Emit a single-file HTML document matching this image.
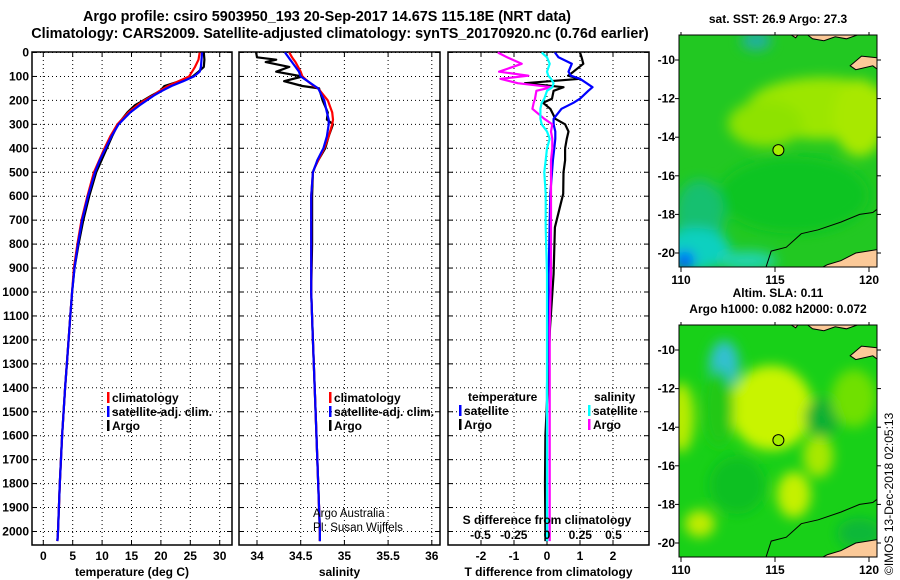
<!DOCTYPE html>
<html><head><meta charset="utf-8"><style>
html,body{margin:0;padding:0;background:#fff;}
svg{display:block;font-family:"Liberation Sans",Arial,sans-serif;}
.t{font-weight:bold;font-size:14.4px;fill:#000;}
.tk{font-weight:bold;font-size:12px;fill:#000;}
.grid{stroke:#000;stroke-width:1;stroke-dasharray:1 3;}
</style></head><body>
<svg id="fig" width="900" height="580" viewBox="0 0 900 580">
<text class="t" x="327" y="21" text-anchor="middle">Argo profile: csiro 5903950_193 20-Sep-2017 14.67S 115.18E (NRT data)</text>
<text class="t" x="340" y="38" text-anchor="middle">Climatology: CARS2009. Satellite-adjusted climatology: synTS_20170920.nc (0.76d earlier)</text>
<g id="maps"></g>
<g id="panels"></g>
<text class="tk" x="0" y="0" style="font-weight:normal" transform="translate(893,575) rotate(-90)">©IMOS 13-Dec-2018 02:05:13</text>
</svg>
<script>
// ---------- data ----------
const depthTicks=[0,100,200,300,400,500,600,700,800,900,1000,1100,1200,1300,1400,1500,1600,1700,1800,1900,2000];
const tempTicks=[0,5,10,15,20,25,30];
const salTicks=[34,34.5,35,35.5,36];
const salTickLabels=['34','34.5','35','35.5','36'];
const dTTicks=[-2,-1,0,1,2];
const dSTicks=[-0.5,-0.25,0,0.25,0.5];
const dSTickLabels=['-0.5','-0.25','0','0.25','0.5'];
// temperature profiles
const tDepth=[0,30,60,80,100,120,140,160,180,200,220,250,300,350,400,450,500,600,700,800,900,1000,1100,1200,1400,1600,1800,2000,2040];
const tClim=[26.6,26.4,25.8,25.3,24.8,23.0,21.2,19.8,18.6,17.2,16.0,14.5,12.6,11.4,10.4,9.5,8.6,7.5,6.5,5.8,5.2,4.9,4.6,4.3,3.7,3.2,2.8,2.5,2.4];
const tSat=[27.0,26.9,26.8,26.6,25.6,23.8,21.8,20.2,18.8,17.6,16.4,14.8,12.8,11.6,10.6,9.6,8.8,7.6,6.6,5.9,5.3,4.9,4.6,4.3,3.7,3.2,2.8,2.5,2.4];
const tArgo=[27.3,27.4,27.3,26.4,25.4,23.2,20.6,19.9,18.4,17.0,15.6,14.3,12.7,11.7,10.8,9.9,9.0,7.8,6.8,6.0,5.3,4.9,4.6,4.3,3.7,3.2,2.8,2.5,2.4];
// salinity profiles
const sDepth=[0,20,30,40,60,80,100,120,140,150,200,250,280,300,350,400,450,480,500,600,800,1000,1200,1500,1800,2000,2040];
const sClim=[34.37,34.40,34.42,34.44,34.47,34.50,34.52,34.58,34.65,34.70,34.81,34.86,34.87,34.86,34.82,34.77,34.70,34.66,34.64,34.62,34.62,34.62,34.64,34.67,34.70,34.72,34.72];
const sSat=[34.32,34.36,34.38,34.40,34.44,34.48,34.50,34.58,34.66,34.70,34.77,34.80,34.82,34.82,34.80,34.76,34.69,34.66,34.64,34.62,34.62,34.62,34.64,34.67,34.70,34.72,34.72];
const sArgo=[33.99,34.00,34.22,34.10,34.37,34.22,34.52,34.31,34.52,34.71,34.75,34.81,34.80,34.87,34.82,34.78,34.70,34.66,34.64,34.63,34.63,34.62,34.64,34.67,34.70,34.72,34.72];
// difference profiles
const dDepth=[0,20,47,80,97,110,128,145,160,193,210,235,277,300,330,360,400,450,500,590,730,925,1150,1400,1600,1800,2000,2040];
const dTSat=[0.24,0.35,0.75,0.65,0.72,1.0,1.2,1.38,1.25,1.0,0.8,0.44,0.2,0.2,0.25,0.25,0.22,0.18,0.15,0.1,0.08,0.05,0.03,0.0,0.0,0.0,0.0,0.0];
const dTArgo=[1.0,1.05,1.1,0.8,0.64,1.0,-0.67,0.5,0.2,0.15,-0.12,0.1,0.25,0.55,0.65,0.6,0.55,0.55,0.5,0.49,0.24,0.2,0.09,0.02,-0.05,-0.06,-0.05,-0.05];
const dSSat=[-0.04,0.0,0.02,0.0,0.01,0.03,0.05,0.04,0.0,-0.02,-0.04,-0.05,-0.05,-0.04,0.0,0.02,0.0,-0.01,-0.02,-0.01,-0.01,0.0,0.0,0.0,0.0,0.0,0.0,0.0];
const dSArgo=[-0.37,-0.30,-0.19,-0.36,-0.14,-0.35,-0.22,0.035,-0.08,-0.09,-0.1,-0.11,-0.02,0.04,0.03,0.04,0.04,0.03,0.03,0.03,0.03,0.03,0.02,0.02,0.02,0.02,0.02,0.02];
// map axes
const lonTicks=[110,115,120];
const latTicks=[-10,-12,-14,-16,-18,-20];
const floatLon=115.18, floatLat=-14.67;

// ---------- helpers ----------
const NS='http://www.w3.org/2000/svg';
function mk(tag,attrs,parent){const e=document.createElementNS(NS,tag);for(const k in attrs)e.setAttribute(k,attrs[k]);parent.appendChild(e);return e;}
const yD=d=>52.5+d*0.2395;
const panels=document.getElementById('panels');
const PT=52,PB=545;

function panel(name,x0,x1,fx,xt,xl,xtitle){
  const g=mk('g',{},panels);
  
  
  depthTicks.forEach(d=>{
    const l=mk('line',{x1:x0,x2:x1,y1:yD(d),y2:yD(d),class:'grid'},g);
    
    
    mk('line',{x1:x0,x2:x0+5,y1:yD(d),y2:yD(d),stroke:'#000'},g);
    mk('line',{x1:x1-5,x2:x1,y1:yD(d),y2:yD(d),stroke:'#000'},g);
  });
  xt.forEach((v,i)=>{
    const x=fx(v);
    const l=mk('line',{x1:x,x2:x,y1:PT,y2:PB,class:'grid'},g);
    
    
    mk('line',{x1:x,x2:x,y1:PB,y2:PB-5,stroke:'#000'},g);
    mk('line',{x1:x,x2:x,y1:PT,y2:PT+5,stroke:'#000'},g);
    const t=mk('text',{x:x,y:560,class:'tk','text-anchor':'middle'},g);
    t.textContent=xl?xl[i]:String(v);
    
    
  });
  const r=mk('rect',{x:x0,y:PT,width:x1-x0,height:PB-PT,fill:'none',stroke:'#000','stroke-width':1.5},g);
  
  
  const tt=mk('text',{x:(x0+x1)/2,y:576,class:'tk','text-anchor':'middle'},g);
  tt.textContent=xtitle;
  
  
  return g;
}
function line(g,fx,vals,depths,color,name){
  const pts=vals.map((v,i)=>fx(v).toFixed(1)+','+yD(depths[i]).toFixed(1)).join(' ');
  const p=mk('polyline',{points:pts,fill:'none',stroke:color,'stroke-width':2.2,'stroke-linejoin':'round'},g);
  
  
}
function legend(g,x,y,color,label,name){
  mk('rect',{x:x,y:y-10,width:2.5,height:11,fill:color},g);
  const t=mk('text',{x:x+5,y:y,class:'tk'},g);
  t.textContent=label;
  
  
}

// Panel 1 temperature
const fT=v=>43.3+v*5.88;
const g1=panel('temperature-panel',32,232,fT,tempTicks,null,'temperature (deg C)');
depthTicks.forEach(d=>{
  const t=mk('text',{x:29,y:yD(d)+4,class:'tk','text-anchor':'end'},g1);
  t.textContent=String(d);
  
  
});
line(g1,fT,tArgo,tDepth,'#000','temp-argo-line');
line(g1,fT,tClim,tDepth,'#f00','temp-climatology-line');
line(g1,fT,tSat,tDepth,'#00f','temp-satellite-line');
legend(g1,107,402,'#f00','climatology','legend-climatology');
legend(g1,107,416,'#00f','satellite-adj. clim.','legend-satellite');
legend(g1,107,430,'#000','Argo','legend-argo');

// Panel 2 salinity
const fS=v=>257+(v-34)*87.4;
const g2=panel('salinity-panel',239,440,fS,salTicks,salTickLabels,'salinity');
line(g2,fS,sArgo,sDepth,'#000','sal-argo-line');
line(g2,fS,sClim,sDepth,'#f00','sal-climatology-line');
line(g2,fS,sSat,sDepth,'#00f','sal-satellite-line');
legend(g2,329,402,'#f00','climatology','legend-climatology');
legend(g2,329,416,'#00f','satellite-adj. clim.','legend-satellite');
legend(g2,329,430,'#000','Argo','legend-argo');
[['Argo Australia',517],['PI: Susan Wijffels',531]].forEach(a=>{
  const t=mk('text',{x:313,y:a[1],'font-size':'11.5px',fill:'#000'},g2);
  t.textContent=a[0];
  
  
});

// Panel 3 differences
const fdT=v=>547+v*33;
const fdS=v=>547+v*133;
const g3=panel('difference-panel',448,649,fdT,dTTicks,null,'T difference from climatology');
line(g3,fdT,dTArgo,dDepth,'#000','dT-argo-line');
line(g3,fdT,dTSat,dDepth,'#00f','dT-satellite-line');
line(g3,fdS,dSArgo,dDepth,'#f0f','dS-argo-line');
line(g3,fdS,dSSat,dDepth,'#0ff','dS-satellite-line');
[['temperature',468,401],['salinity',594,401]].forEach(a=>{
  const t=mk('text',{x:a[1],y:a[2],class:'tk'},g3);
  t.textContent=a[0];
  
  
});
legend(g3,459,415,'#00f','satellite','legend-t-satellite');
legend(g3,459,429,'#000','Argo','legend-t-argo');
legend(g3,588,415,'#0ff','satellite','legend-s-satellite');
legend(g3,588,429,'#f0f','Argo','legend-s-argo');
const st=mk('text',{x:547,y:524,class:'tk','text-anchor':'middle'},g3);
st.textContent='S difference from climatology';


dSTicks.forEach((v,i)=>{
  const t=mk('text',{x:fdS(v),y:539,class:'tk','text-anchor':'middle'},g3);
  t.textContent=dSTickLabels[i];
  
  
});

// ---------- maps ----------
const maps=document.getElementById('maps');
function map(name,top,title,blobs,base){
  const L=679,R=877,T=top,B=top+232;
  const fx=lon=>681+(lon-110)*18.8;
  const fy=lat=>T+25+(-10-lat)*19.3;
  const g=mk('g',{},maps);
  
  
  const id=name+'-clip';
  const cp=mk('clipPath',{id:id},g);
  mk('rect',{x:L,y:T,width:R-L,height:B-T},cp);
  const fid=name+'-blur';
  const f=mk('filter',{id:fid,x:'-50%',y:'-50%',width:'200%',height:'200%'},g);
  mk('feGaussianBlur',{stdDeviation:6},f);
  const c=mk('g',{'clip-path':'url(#'+id+')'},g);
  mk('rect',{x:L,y:T,width:R-L,height:B-T,fill:base},c);
  const bg=mk('g',{filter:'url(#'+fid+')'},c);
  blobs.forEach(b=>mk('ellipse',{cx:fx(b[0]),cy:fy(b[1]),rx:b[2]*18.8,ry:b[3]*19.3,fill:b[4]},bg));
  const P=a=>a.map(p=>fx(p[0]).toFixed(1)+','+fy(p[1]).toFixed(1)).join(' ');
  mk('polygon',{points:P([[119,-10.3],[119.6,-9.8],[120.6,-9.9],[120.6,-10.6],[120.2,-10.3],[119.3,-10.5]]),fill:'#fbc998',stroke:'#000','stroke-width':1},c);
  mk('polygon',{points:P([[116.6,-8.6],[117,-8.9],[117.6,-9.0],[118.2,-8.8],[118.8,-8.9],[119.4,-8.7]]),fill:'#fbc998',stroke:'#000','stroke-width':1},c);
  mk('polygon',{points:P([[115.7,-8.6],[116.1,-8.85],[116.3,-8.6]]),fill:'#fbc998',stroke:'#000','stroke-width':1},c);
  mk('polygon',{points:P([[117.4,-20.8],[117.8,-20.6],[118.5,-20.4],[119.3,-20.0],[120.6,-19.8],[120.6,-20.8]]),fill:'#fbc998',stroke:'#000','stroke-width':1},c);
  mk('polyline',{points:P([[114.5,-20.8],[114.8,-19.9],[115.6,-19.7],[116.4,-19.0],[117.3,-18.8],[118.5,-18.4],[119.5,-18.0],[120.2,-17.9],[120.6,-17.6]]),fill:'none',stroke:'#000','stroke-width':1},c);
  const fl=mk('circle',{cx:fx(floatLon),cy:fy(floatLat),r:5.5,fill:'#a6ee00',stroke:'#000','stroke-width':1},g);
  
  
  mk('rect',{x:L,y:T,width:R-L,height:B-T,fill:'none',stroke:'#000','stroke-width':1},g);
  lonTicks.forEach(v=>{
    mk('line',{x1:fx(v),x2:fx(v),y1:B,y2:B+5,stroke:'#000'},g);
    mk('line',{x1:fx(v),x2:fx(v),y1:T,y2:T-3,stroke:'#000'},g);
    const t=mk('text',{x:fx(v),y:B+17,class:'tk','text-anchor':'middle','font-size':'13px'},g);
    t.textContent=String(v);
    
    
  });
  latTicks.forEach(v=>{
    mk('line',{x1:L-4,x2:L,y1:fy(v),y2:fy(v),stroke:'#000'},g);
    mk('line',{x1:R,x2:R+4,y1:fy(v),y2:fy(v),stroke:'#000'},g);
    const t=mk('text',{x:L-4,y:fy(v)+4,class:'tk','text-anchor':'end'},g);
    t.textContent=String(v);
    
    
  });
  title.forEach((s,i)=>{
    const t=mk('text',{x:778,y:T-(title.length-i-1)*16-12,class:'tk','text-anchor':'middle'},g);
    t.textContent=s;
    
    
  });
}
map('sst-map',35,['sat. SST: 26.9 Argo: 27.3'],[
  [117.5,-12.5,4,1.6,'#9ce600'],[114.5,-13.3,2,1.2,'#8ee200'],[119.5,-13,1.4,2,'#a8e800'],
  [116,-17,4,2,'#10c420'],[111,-18,1.3,1.8,'#18c070'],[110.8,-19.8,1.8,1.1,'#10d0c0'],
  [110.2,-20.4,0.5,0.5,'#0050ff'],[113.5,-20.4,1.6,0.5,'#20d4b0'],[114,-9,0.8,0.5,'#20b0a0']
],'#22c822');
map('sla-map',325,['Altim. SLA: 0.11','Argo h1000: 0.082 h2000: 0.072'],[
  [114.8,-13,2.2,2.2,'#c8f400'],[116,-17.5,0.9,1.2,'#c4f000'],[111,-19,0.8,0.7,'#c0ec00'],
  [110,-13.5,0.7,1.8,'#b8ec00'],[112.3,-10.8,0.8,1.3,'#30c0d0'],[117.3,-15.5,0.8,1.1,'#a8e800'],
  [117.5,-13.5,0.9,1,'#08b030'],[119.2,-12.5,1.2,1.5,'#70e000'],[113,-17,1.5,1.5,'#10c020'],
  [119.5,-19.5,1.2,0.8,'#08b838'],[112,-13,0.8,2,'#20c818']
],'#18d018');
</script>
</body></html>
